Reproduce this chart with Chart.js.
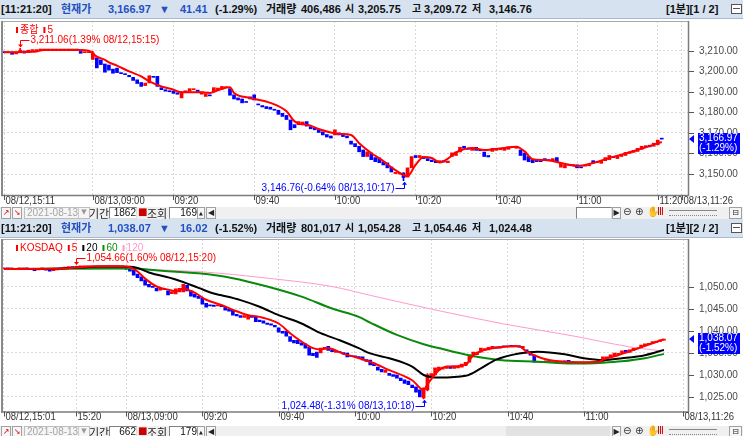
<!DOCTYPE html>
<html>
<head>
<meta charset="utf-8">
<script src="https://cdn.jsdelivr.net/npm/chart.js@4.4.0/dist/chart.umd.min.js"></script>
<style>
  body { margin: 0; width: 743px; height: 436px; overflow: hidden; background: #fff; position: relative; font-family: "Liberation Sans", "Noto Sans CJK KR", sans-serif; }
  canvas { position: absolute; left: 0; }
  .hdr { position: absolute; left: 0; width: 743px; height: 18px; background: #d6e2f0; border-bottom: 1px solid #a9bad0; font: bold 11px "Liberation Sans", "Noto Sans CJK KR", sans-serif; color: #111; }
  .hdr span { position: absolute; top: 3px; line-height: 12px; white-space: nowrap; }
  .hdr .k { font-size: 10px; top: 3px; }
  .hdr .b { color: #2450c0; }
  .hdr .ico { position: absolute; left: 731px; top: 4px; width: 9px; height: 8px; border: 1px solid #555; background: #fff; }
  .hdr .ico:after { content: ""; position: absolute; left: 1px; top: 3px; width: 7px; height: 1px; background: #555; }
  .tb { position: absolute; left: 0; width: 743px; height: 12px; background: #f0f0f0; font: 11px "Noto Sans CJK KR", sans-serif; }
  .tb > div { position: absolute; top: 0; height: 10px; line-height: 10px; white-space: nowrap; }
  .cb { left: 24px; width: 62px; border: 1px solid #bdbdbd; background: #f5f5f5; color: #a5a5a5; font: 10px "Liberation Sans"; padding-left: 2px; }
  .cb i { position: absolute; right: 0; top: 0; width: 10px; height: 10px; border-left: 1px solid #ccc; font: 7px "DejaVu Sans"; font-style: normal; text-align: center; color: #999; }
  .lbl { line-height: 12px !important; height: 12px !important; color: #222; }
  .inp { border: 1px solid #808080; border-right-color: #ddd; border-bottom-color: #ddd; background: #fff; font: 10px "Liberation Sans"; text-align: right; color: #111; }
  .btn { border: 1px solid #a0a0a0; background: #f6f6f6; font: 8px "DejaVu Sans"; text-align: center; color: #222; }
  .sym { font: 10px "DejaVu Sans"; color: #333; }
</style>
</head>
<body>

<div class="hdr" style="top:0">
  <span style="left:1px">[11:21:20]</span>
  <span class="b" style="left:61px">현재가</span>
  <span class="b" style="left:108px">3,166.97</span>
  <span class="b" style="left:159px">▼</span>
  <span class="b" style="left:180px">41.41</span>
  <span style="left:215px">(-1.29%)</span>
  <span style="left:266px">거래량</span>
  <span style="left:301px">406,486</span>
  <span class="k" style="left:345px">시</span>
  <span style="left:358px">3,205.75</span>
  <span class="k" style="left:412px">고</span>
  <span style="left:424px">3,209.72</span>
  <span class="k" style="left:472px">저</span>
  <span style="left:489px">3,146.76</span>
  <span style="left:666px">[1분][1 / 2]</span>
  <div class="ico"></div>
</div>

<canvas id="chart1" width="743" height="188" style="top:19px;width:743px;height:188px"></canvas>

<div class="tb" style="top:207px">
  <div class="btn" style="left:1px;width:8px;color:#d00">↗</div>
  <div class="btn" style="left:12px;width:8px;color:#d00">↘</div>
  <div class="cb">2021-08-13<i>▼</i></div>
  <div class="lbl" style="left:89px">기간</div>
  <div class="inp" style="left:109px;width:26px">1862</div>
  <div class="sym" style="left:138px;color:#c00">■</div>
  <div class="lbl" style="left:147px">조회</div>
  <div class="inp" style="left:169px;width:27px">169</div>
  <div class="btn" style="left:197px;width:6px;font-size:5px">▲</div>
  <div class="btn" style="left:206px;width:8px">◀</div>
  <div class="inp" style="left:576px;width:34px"></div>
  <div class="btn" style="left:612px;width:7px">▶</div>
  <div class="sym" style="left:623px">⊖</div>
  <div class="sym" style="left:635px">⊕</div>
  <div class="sym" style="left:647px">✋</div>
  <div class="sym" style="left:657px;color:#c00">Ⅲ</div>
  <div style="left:669px;width:48px;height:4px;top:3px;border-bottom:1px dotted #888;border-top:1px solid #888"></div>
  <div class="btn" style="left:729px;width:11px">⊟</div>
</div>

<div class="hdr" style="top:219px">
  <span style="left:1px">[11:21:20]</span>
  <span class="b" style="left:61px">현재가</span>
  <span class="b" style="left:108px">1,038.07</span>
  <span class="b" style="left:159px">▼</span>
  <span class="b" style="left:180px">16.02</span>
  <span style="left:215px">(-1.52%)</span>
  <span style="left:266px">거래량</span>
  <span style="left:301px">801,017</span>
  <span class="k" style="left:345px">시</span>
  <span style="left:358px">1,054.28</span>
  <span class="k" style="left:412px">고</span>
  <span style="left:424px">1,054.46</span>
  <span class="k" style="left:472px">저</span>
  <span style="left:489px">1,024.48</span>
  <span style="left:666px">[1분][2 / 2]</span>
  <div class="ico"></div>
</div>

<canvas id="chart2" width="743" height="190" style="top:236px;width:743px;height:190px"></canvas>

<div class="tb" style="top:426px">
  <div class="btn" style="left:1px;width:8px;color:#d00">↗</div>
  <div class="btn" style="left:12px;width:8px;color:#d00">↘</div>
  <div class="cb">2021-08-13<i>▼</i></div>
  <div class="lbl" style="left:89px">기간</div>
  <div class="inp" style="left:109px;width:26px">662</div>
  <div class="sym" style="left:138px;color:#c00">■</div>
  <div class="lbl" style="left:147px">조회</div>
  <div class="inp" style="left:169px;width:27px">179</div>
  <div class="btn" style="left:197px;width:6px;font-size:5px">▲</div>
  <div class="btn" style="left:206px;width:8px">◀</div>
  <div style="left:506px;width:104px;background:#e2e2e2"></div>
  <div class="btn" style="left:612px;width:7px">▶</div>
  <div class="sym" style="left:623px">⊖</div>
  <div class="sym" style="left:635px">⊕</div>
  <div class="sym" style="left:647px">✋</div>
  <div class="sym" style="left:657px;color:#c00">Ⅲ</div>
  <div style="left:669px;width:48px;height:4px;top:3px;border-bottom:1px dotted #888;border-top:1px solid #888"></div>
  <div class="btn" style="left:729px;width:11px">⊟</div>
</div>

<script>
// ---- 종합 (KOSPI) 1분봉, 08/12 15:11 ~ 08/13 11:26 (169칸) ----
const topTickIdx = [0, 22, 42, 62, 82, 102, 122, 142, 162, 168];
const topTickText = ['08/12,15:11', '08/13,09:00', '09:20', '09:40', '10:00', '10:20', '10:40', '11:00', '11:20', '08/13,11:26'];
const topYTicks = [3150, 3160, 3170, 3180, 3190, 3200, 3210];

const topOpen = [
  3209.2, 3209.0, 3209.3, 3208.4, 3209.5, 3209.8, 3209.0, 3210.0, 3209.4, 3210.3,
  3210.3, 3210.3, 3210.3, 3210.3, 3210.3, 3210.3, 3210.3, 3210.3, 3210.3, 3209.6,
  3209.0, 3209.0, 3205.75, 3206.5, 3205.5, 3203.5, 3203.0, 3201.0, 3201.5, 3199.3,
  3198.8, 3198.0, 3197.0, 3195.8, 3194.5, 3193.0, 3194.3, 3197.5, 3197.5, 3192.0,
  3191.0, 3190.5, 3190.3, 3189.5, 3187.0, 3190.0, 3190.2, 3191.0, 3190.8, 3188.8,
  3187.7, 3188.5, 3190.0, 3191.0, 3191.2, 3192.0, 3191.5, 3188.5, 3187.0, 3186.5,
  3185.0, 3187.5, 3188.5, 3184.0, 3183.3, 3182.8, 3182.5, 3181.5, 3181.0, 3179.5,
  3178.5, 3176.3, 3174.0, 3174.0, 3174.3, 3175.5, 3173.0, 3172.5, 3171.5, 3170.5,
  3169.2, 3168.5, 3169.0, 3170.0, 3169.0, 3168.5, 3166.0, 3164.8, 3163.5, 3161.7,
  3158.5, 3160.2, 3158.0, 3157.8, 3156.0, 3155.4, 3153.4, 3150.2, 3150.0, 3150.5,
  3148.5, 3153.0, 3159.0, 3158.0, 3158.5, 3157.5, 3156.8, 3156.5, 3155.8, 3156.5,
  3155.5, 3158.5, 3159.0, 3160.7, 3163.5, 3162.5, 3161.5, 3163.0, 3162.0, 3160.7,
  3159.0, 3161.0, 3161.5, 3161.8, 3161.5, 3162.0, 3163.0, 3162.5, 3161.7, 3160.2,
  3158.5, 3157.0, 3157.0, 3156.5, 3157.5, 3157.0, 3156.5, 3158.0, 3153.3, 3153.0,
  3154.5, 3154.2, 3154.5, 3153.5, 3153.8, 3154.0, 3156.5, 3155.5, 3155.2, 3156.5,
  3157.0, 3158.5, 3157.5, 3158.5, 3159.0, 3160.0, 3160.5, 3161.0, 3162.0, 3163.0,
  3164.0, 3163.5, 3164.2, 3167.2
];
const topClose = [
  3209.0, 3209.2, 3208.2, 3209.0, 3210.2, 3208.8, 3210.2, 3210.4, 3210.5, 3210.3,
  3210.3, 3210.3, 3210.3, 3210.3, 3210.3, 3210.3, 3210.3, 3210.3, 3210.3, 3208.7,
  3209.0, 3209.0, 3208.9, 3201.6, 3203.2, 3199.5, 3200.5, 3199.0, 3199.3, 3198.8,
  3198.3, 3197.3, 3195.5, 3194.0, 3192.6, 3194.2, 3197.8, 3197.0, 3192.6, 3191.0,
  3190.3, 3190.0, 3189.2, 3188.8, 3190.0, 3190.3, 3191.5, 3191.2, 3190.0, 3190.0,
  3189.0, 3188.0, 3192.0, 3191.8, 3192.6, 3192.4, 3188.3, 3186.5, 3186.0, 3184.6,
  3184.8, 3186.5, 3186.0, 3183.6, 3182.6, 3181.8, 3181.5, 3181.0, 3179.0, 3178.0,
  3176.5, 3171.5, 3172.5, 3175.5, 3175.3, 3173.3, 3172.0, 3171.5, 3170.2, 3169.0,
  3168.0, 3167.5, 3171.5, 3169.0, 3168.2, 3167.6, 3164.5, 3163.3, 3160.8, 3158.5,
  3160.8, 3157.0, 3156.0, 3155.5, 3154.4, 3153.0, 3151.0, 3150.8, 3150.5, 3148.3,
  3153.0, 3158.5, 3158.0, 3159.0, 3157.5, 3156.5, 3156.0, 3155.5, 3156.5, 3155.8,
  3156.3, 3160.3, 3160.7, 3163.0, 3162.5, 3162.0, 3162.7, 3161.5, 3161.3, 3158.5,
  3158.3, 3162.5, 3162.5, 3162.3, 3162.5, 3163.3, 3163.2, 3163.5, 3159.0, 3156.8,
  3156.0, 3155.5, 3156.0, 3156.0, 3156.5, 3156.5, 3157.5, 3156.0, 3155.3, 3154.5,
  3154.3, 3154.5, 3153.0, 3153.0, 3154.3, 3154.3, 3155.3, 3156.2, 3156.5, 3158.0,
  3159.0, 3158.0, 3158.8, 3159.5, 3160.5, 3160.8, 3161.5, 3162.5, 3163.5, 3163.8,
  3163.2, 3165.0, 3166.5, 3166.97
];
// [봉 번호, 저가, 고가]
const topWicks = [[4, 3209.3, 3211.06], [22, 3205.75, 3209.72], [99, 3146.76, 3150.6]];
// 5 이동평균 [봉 번호, 값]
const topMa5 = [
  [0, 3209.2], [7, 3209.4], [10, 3210.3], [19, 3210.3], [21, 3209.9], [23, 3207.1], [25, 3205.5],
  [26, 3204.3], [28, 3202.7], [31, 3199.9], [34, 3197.5], [36, 3195.0], [39, 3192.6], [42, 3191.0],
  [44, 3189.7], [48, 3189.8], [51, 3189.4], [54, 3191.5], [56, 3192.2], [57, 3189.4], [61, 3187.0],
  [66, 3184.6], [70, 3180.5], [72, 3175.6], [76, 3173.5], [78, 3171.9], [83, 3169.5], [86, 3169.0],
  [88, 3165.0], [91, 3160.2], [94, 3156.3], [97, 3151.9], [100, 3149.0], [102, 3154.5], [104, 3158.3],
  [106, 3157.8], [108, 3155.6], [110, 3157.5], [112, 3160.5], [116, 3162.7], [119, 3161.7], [124, 3162.7],
  [127, 3163.3], [129, 3161.0], [131, 3157.2], [134, 3156.8], [138, 3155.4], [142, 3153.9], [147, 3155.9],
  [150, 3157.8], [157, 3161.7], [163, 3165.6]
];

// ---- KOSDAQ 1분봉, 08/12 15:01 ~ 08/13 11:26 (179칸) ----
const botTickIdx = [0, 19, 32, 52, 72, 92, 112, 132, 152, 178];
const botTickText = ['08/12,15:01', '15:20', '08/13,09:00', '09:20', '09:40', '10:00', '10:20', '10:40', '11:00', '08/13,11:26'];
const botYTicks = [1025, 1030, 1035, 1040, 1045, 1050];

const botOpen = [
  1054.0, 1054.1, 1054.0, 1054.1, 1054.0, 1054.0, 1054.1, 1054.0, 1054.0, 1053.8,
  1054.0, 1054.1, 1053.8, 1053.6, 1053.8, 1054.0, 1054.2, 1054.3, 1054.4, 1054.3,
  1054.5, 1054.5, 1054.5, 1054.5, 1054.5, 1054.5, 1054.5, 1054.5, 1054.5, 1054.5,
  1054.5, 1054.5, 1054.28, 1054.0, 1053.7, 1052.8, 1052.2, 1051.5, 1050.5, 1050.0,
  1049.6, 1049.2, 1049.3, 1049.0, 1048.4, 1048.3, 1048.8, 1048.8, 1050.3, 1049.0,
  1048.3, 1047.8, 1047.4, 1046.2, 1045.8, 1045.8, 1045.6, 1045.7, 1045.3, 1044.8,
  1044.6, 1043.7, 1043.4, 1043.0, 1042.6, 1043.3, 1043.0, 1042.4, 1042.2, 1041.7,
  1041.5, 1041.2, 1040.6, 1039.8, 1039.8, 1038.6, 1037.8, 1037.8, 1037.2, 1037.0,
  1036.2, 1034.8, 1035.1, 1034.9, 1035.8, 1036.4, 1035.6, 1035.0, 1035.2, 1035.0,
  1034.9, 1034.2, 1034.2, 1034.1, 1034.0, 1033.4, 1033.3, 1032.6, 1031.7, 1031.2,
  1030.5, 1030.3, 1030.0, 1029.9, 1029.2, 1028.8, 1028.5, 1027.6, 1027.2, 1026.5,
  1024.7, 1026.5, 1029.5, 1029.9, 1031.0, 1031.2, 1031.4, 1031.5, 1031.4, 1031.5,
  1031.7, 1032.0, 1032.8, 1034.0, 1034.5, 1035.1, 1035.5, 1035.6, 1036.0, 1036.3,
  1036.0, 1036.4, 1036.3, 1036.5, 1036.4, 1036.5, 1036.0, 1035.6, 1035.0, 1034.4,
  1032.8, 1033.0, 1032.9, 1033.1, 1033.0, 1033.1, 1032.9, 1033.0, 1033.2, 1032.9,
  1032.6, 1032.8, 1032.6, 1032.7, 1032.6, 1032.8, 1032.7, 1032.8, 1033.5, 1033.8,
  1034.2, 1034.5, 1034.9, 1035.5, 1035.0, 1035.4, 1035.8, 1036.0, 1036.5, 1036.8,
  1037.1, 1037.3, 1037.5, 1037.8
];
const botClose = [
  1054.0, 1054.0, 1054.1, 1053.9, 1054.0, 1054.1, 1054.0, 1053.9, 1053.6, 1053.9,
  1054.1, 1053.7, 1053.5, 1053.8, 1054.0, 1054.2, 1054.3, 1054.4, 1054.3, 1054.5,
  1054.5, 1054.5, 1054.5, 1054.5, 1054.5, 1054.5, 1054.5, 1054.5, 1054.5, 1054.5,
  1054.5, 1054.5, 1054.0, 1053.5, 1052.6, 1052.0, 1051.3, 1050.3, 1049.9, 1049.8,
  1049.0, 1049.6, 1049.5, 1048.1, 1048.8, 1049.5, 1049.6, 1050.5, 1049.0, 1047.8,
  1047.6, 1047.3, 1046.0, 1045.3, 1045.6, 1045.5, 1045.8, 1045.4, 1044.6, 1044.4,
  1043.5, 1043.3, 1043.0, 1043.4, 1043.5, 1043.0, 1042.0, 1042.0, 1041.7, 1041.4,
  1041.2, 1040.8, 1039.6, 1039.4, 1038.7, 1037.5, 1037.2, 1037.0, 1036.7, 1036.0,
  1034.4, 1034.3, 1033.9, 1036.0, 1036.2, 1035.5, 1035.2, 1035.3, 1035.0, 1034.6,
  1034.0, 1034.1, 1034.0, 1033.8, 1033.3, 1033.0, 1032.2, 1032.0, 1031.0, 1030.6,
  1031.0, 1029.8, 1029.6, 1029.2, 1028.6, 1028.0, 1027.7, 1027.0, 1026.0, 1024.9,
  1026.9, 1029.9, 1030.2, 1031.5, 1031.7, 1031.6, 1031.7, 1031.4, 1031.7, 1031.8,
  1032.4, 1032.8, 1034.4, 1035.1, 1034.9, 1036.0, 1035.9, 1036.2, 1036.4, 1036.0,
  1036.4, 1036.3, 1036.5, 1036.4, 1036.5, 1036.2, 1036.4, 1034.9, 1034.4, 1032.8,
  1033.0, 1032.7, 1033.1, 1033.0, 1033.2, 1032.9, 1033.0, 1032.9, 1032.7, 1032.5,
  1032.8, 1032.6, 1032.8, 1032.6, 1032.8, 1032.7, 1033.0, 1034.0, 1034.0, 1034.5,
  1034.9, 1034.8, 1035.4, 1035.1, 1035.6, 1036.0, 1036.2, 1036.7, 1037.0, 1037.1,
  1037.5, 1037.6, 1037.9, 1038.07
];
const botWicks = [[19, 1054.2, 1054.66], [32, 1053.9, 1054.46], [110, 1024.48, 1027.0], [111, 1026.3, 1030.2]];
const botMa5 = [
  [0, 1054.0], [16, 1054.1], [20, 1054.4], [25, 1054.6], [30, 1054.6], [33, 1054.4], [35, 1053.4],
  [37, 1051.8], [40, 1050.0], [43, 1049.3], [45, 1048.9], [47, 1049.5], [50, 1048.6], [53, 1047.0],
  [57, 1045.8], [60, 1044.7], [64, 1043.5], [67, 1043.1], [72, 1041.6], [75, 1039.4], [78, 1037.5],
  [81, 1036.0], [83, 1035.7], [85, 1036.0], [89, 1034.7], [92, 1034.0], [96, 1032.9], [101, 1031.0],
  [107, 1028.7], [110, 1026.5], [111, 1027.8], [114, 1031.0], [116, 1031.8], [121, 1032.2], [123, 1034.4],
  [126, 1035.6], [129, 1036.1], [135, 1036.4], [137, 1035.2], [141, 1033.7], [145, 1033.0], [151, 1032.8],
  [156, 1032.9], [157, 1033.4], [161, 1034.4], [166, 1035.9], [170, 1037.1], [173, 1038.0]
];
const botMa20 = [
  [0, 1054.0], [10, 1054.0], [20, 1054.3], [25, 1054.5], [33, 1054.5], [35, 1054.2], [38, 1053.2],
  [45, 1051.6], [51, 1049.7], [55, 1048.4], [57, 1048.0], [62, 1046.9], [67, 1045.4], [72, 1043.5],
  [78, 1041.6], [83, 1039.4], [88, 1037.8], [93, 1036.0], [96, 1034.8], [101, 1033.7], [107, 1031.8],
  [110, 1029.9], [114, 1029.3], [121, 1029.7], [125, 1031.4], [129, 1033.4], [135, 1034.8], [140, 1035.2],
  [147, 1034.6], [152, 1033.7], [157, 1033.3], [162, 1033.7], [168, 1034.4], [173, 1035.6]
];
const botMa60 = [
  [0, 1054.0], [35, 1054.1], [38, 1053.8], [51, 1053.0], [60, 1051.9], [69, 1050.0], [78, 1047.7],
  [86, 1045.0], [93, 1043.1], [96, 1041.8], [103, 1039.0], [110, 1036.9], [115, 1035.8], [122, 1034.4],
  [130, 1033.3], [140, 1032.9], [149, 1032.5], [157, 1032.7], [162, 1033.0], [168, 1033.7], [173, 1034.7]
];
const botMa120 = [
  [0, 1054.0], [35, 1054.1], [40, 1053.8], [51, 1053.4], [69, 1051.9], [86, 1050.0], [96, 1048.0],
  [114, 1044.5], [131, 1041.5], [149, 1038.8], [164, 1036.3], [173, 1035.3]
];

const UP = '#ff0000';
const DOWN = '#0000ff';
const FONT = '10px "Liberation Sans", "Noto Sans CJK KR", sans-serif';

function seg(ctx, x1, y1, x2, y2, color, w) {
  ctx.beginPath();
  ctx.strokeStyle = color;
  ctx.lineWidth = w;
  ctx.moveTo(x1, y1);
  ctx.lineTo(x2, y2);
  ctx.stroke();
}

function fmt(v) {
  return v.toLocaleString('en-US', { minimumFractionDigits: 2, maximumFractionDigits: 2 });
}

// 최고/최저 표시
function drawNote(ctx, xs, ys, n) {
  const [idx, price, text, color, kind] = n;
  const px = Math.round(xs.getPixelForValue(idx)) + 0.5;
  const py = ys.getPixelForValue(price);
  ctx.fillStyle = color;
  ctx.textBaseline = 'middle';
  if (kind === 'high') {
    const ty = Math.round(py - 8) + 0.5;
    seg(ctx, px, ty, px, py - 2, color, 1);
    seg(ctx, px, ty, px + 9, ty, color, 1);
    ctx.beginPath(); ctx.moveTo(px - 2.5, py - 4); ctx.lineTo(px + 2.5, py - 4); ctx.lineTo(px, py - 1); ctx.fill();
    ctx.textAlign = 'left';
    ctx.fillText(text, px + 10, ty);
  } else {
    const ty = Math.round(py + 7) + 0.5;
    seg(ctx, px, ty, px, py + 2, color, 1);
    seg(ctx, px - 9, ty, px, ty, color, 1);
    ctx.beginPath(); ctx.moveTo(px - 2.5, py + 4); ctx.lineTo(px + 2.5, py + 4); ctx.lineTo(px, py + 1); ctx.fill();
    ctx.textAlign = 'right';
    ctx.fillText(text, px - 10, ty);
  }
}

function decoPlugin(p) {
  return {
    id: 'deco',
    afterDraw(chart) {
      const { ctx, chartArea: a } = chart;
      const xs = chart.scales.x, ys = chart.scales.y;
      ctx.save();
      ctx.setLineDash([]);

      // 테두리
      seg(ctx, a.left - 1, a.top, a.left - 1, a.bottom + 1, '#8a8a8a', 2);
      seg(ctx, a.left, a.top + 0.5, a.right, a.top + 0.5, '#a8a8a8', 1);
      seg(ctx, a.right + 0.5, a.top, a.right + 0.5, a.bottom + 1, '#7c7c7c', 1.5);
      seg(ctx, a.left - 2, a.bottom + 0.5, a.right + 1, a.bottom + 0.5, '#7c7c7c', 1.5);

      ctx.font = FONT;
      ctx.textBaseline = 'middle';
      ctx.textAlign = 'left';

      // x축 눈금
      p.tickIdx.forEach((v, k) => {
        const px = Math.round(xs.getPixelForValue(v)) + 0.5;
        seg(ctx, px, a.bottom, px, a.bottom + 5, '#555', 1);
        ctx.fillStyle = '#333';
        const s = p.tickText[k];
        ctx.fillText(s, px + 1, a.bottom + p.labelDy, ctx.measureText(s).width * 0.95);
      });

      // y축 눈금
      p.yTicks.forEach(v => {
        const py = Math.round(ys.getPixelForValue(v)) + 0.5;
        seg(ctx, a.right + 1, py, a.right + 6, py, '#555', 1);
        ctx.fillStyle = '#4a4a4a';
        ctx.fillText(fmt(v), a.right + 11, py);
      });

      // 범례
      let lx = 16;
      const ly = a.top + 9;
      p.legend.forEach(([txt, col]) => {
        ctx.fillStyle = col;
        ctx.fillRect(lx, ly - 3, 2, 6);
        ctx.fillText(txt, lx + 4, ly);
        lx += 4 + ctx.measureText(txt).width + 5;
      });

      p.notes.forEach(n => drawNote(ctx, xs, ys, n));

      // 현재가 박스
      const cy = Math.round(ys.getPixelForValue(p.last));
      ctx.fillStyle = '#0000ff';
      ctx.beginPath();
      ctx.moveTo(a.right + 1, cy); ctx.lineTo(a.right + 6, cy - 4); ctx.lineTo(a.right + 6, cy + 4);
      ctx.fill();
      ctx.fillRect(a.right + 10, cy - 6, 42, 21);
      ctx.fillStyle = '#fff';
      ctx.textAlign = 'left';
      ctx.fillText(fmt(p.last), a.right + 11, cy - 0.5);
      ctx.fillText(p.lastPct, a.right + 11, cy + 9.5);

      ctx.restore();
    }
  };
}

function buildChart(id, p) {
  const colors = p.open.map((o, i) => (p.close[i] >= o ? UP : DOWN));
  const datasets = [
    {
      type: 'bar',
      data: p.wicks.map(w => ({ x: w[0], y: [w[1], w[2]] })),
      backgroundColor: p.wicks.map(w => colors[w[0]]),
      barThickness: 1,
      grouped: false,
      order: 20
    },
    {
      type: 'bar',
      data: p.open.map((o, i) => ({ x: i, y: [o, p.close[i]] })),
      backgroundColor: colors,
      barThickness: 3,
      minBarLength: 1,
      grouped: false,
      order: 10
    }
  ];
  p.lines.forEach(l => {
    datasets.push({
      type: 'line',
      data: l.pts.map(([x, y]) => ({ x, y })),
      borderColor: l.color,
      borderWidth: l.width,
      pointRadius: 0,
      cubicInterpolationMode: 'monotone',
      order: l.order
    });
  });

  const gridOpts = { color: '#d9d9d9', drawTicks: false, offset: false };
  return new Chart(document.getElementById(id), {
    type: 'bar',
    data: { datasets },
    options: {
      responsive: false,
      animation: false,
      events: [],
      layout: { padding: { top: p.padTop, left: 3, right: 0, bottom: 0 } },
      plugins: { legend: { display: false }, tooltip: { enabled: false } },
      scales: {
        x: {
          type: 'linear', min: p.xMin, max: p.xMax, offset: false,
          afterBuildTicks: s => { s.ticks = p.tickIdx.map(v => ({ value: v })); },
          afterFit: s => { s.height = p.xAxisH; },
          ticks: { display: false },
          grid: gridOpts,
          border: { display: false, dash: [2, 2] }
        },
        y: {
          type: 'linear', position: 'right', min: p.yMin, max: p.yMax,
          afterBuildTicks: s => { s.ticks = p.yTicks.map(v => ({ value: v })); },
          afterFit: s => { s.width = 55; },
          ticks: { display: false },
          grid: gridOpts,
          border: { display: false, dash: [2, 2] }
        }
      }
    },
    plugins: [decoPlugin(p)]
  });
}

buildChart('chart1', {
  open: topOpen, close: topClose, wicks: topWicks,
  lines: [{ pts: topMa5, color: '#ff0000', width: 2, order: 1 }],
  tickIdx: topTickIdx, tickText: topTickText, yTicks: topYTicks,
  xMin: -0.25, xMax: 169.5, yMin: 3139.8, yMax: 3224.4,
  padTop: 2, xAxisH: 12, labelDy: 6.5,
  legend: [['종합', '#ff0000'], ['5', '#ff0000']],
  notes: [
    [4, 3211.06, '3,211.06(1.39% 08/12,15:15)', '#ff0000', 'high'],
    [99, 3146.76, '3,146.76(-0.64% 08/13,10:17)', '#0000ff', 'low']
  ],
  last: 3166.97, lastPct: '(-1.29%)'
});

buildChart('chart2', {
  open: botOpen, close: botClose, wicks: botWicks,
  lines: [
    { pts: botMa120, color: '#ff99cc', width: 1, order: 4 },
    { pts: botMa60, color: '#0a8a0a', width: 2, order: 3 },
    { pts: botMa20, color: '#000000', width: 2, order: 2 },
    { pts: botMa5, color: '#ff0000', width: 2, order: 1 }
  ],
  tickIdx: botTickIdx, tickText: botTickText, yTicks: botYTicks,
  xMin: -0.26, xMax: 179.3, yMin: 1021.6, yMax: 1060.8,
  padTop: 3, xAxisH: 14.5, labelDy: 6,
  legend: [['KOSDAQ', '#ff0000'], ['5', '#ff0000'], ['20', '#000000'], ['60', '#0a8a0a'], ['120', '#ff99cc']],
  notes: [
    [19, 1054.66, '1,054.66(1.60% 08/12,15:20)', '#ff0000', 'high'],
    [110, 1024.48, '1,024.48(-1.31% 08/13,10:18)', '#0000ff', 'low']
  ],
  last: 1038.07, lastPct: '(-1.52%)'
});
</script>
</body>
</html>
